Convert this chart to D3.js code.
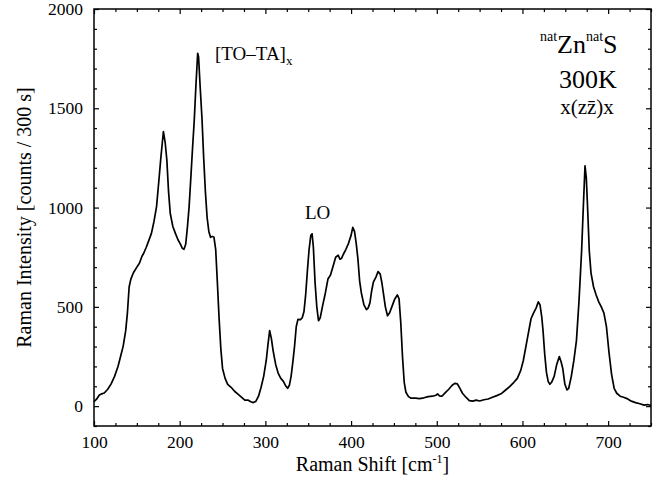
<!DOCTYPE html>
<html>
<head>
<meta charset="utf-8">
<script src="https://cdn.jsdelivr.net/npm/d3@7"></script>
<style>
  body { margin: 0; background: #fff; }
  text { font-family: "Liberation Serif", "DejaVu Serif", serif; fill: #000; }
</style>
</head>
<body>
<div id="chart"></div>
<script>
// Raman shift (cm^-1) and intensity (counts / 300 s)
const shift = [100,103,106,109,112,116,120,124,128,131,134,137,139,141,143,146,150,153,156,158,161,164,167,170,173,176,178,181,183,185,187,189,192,195,198,201,203,205,207,209,211,213,215,217,219,221,222,224,226,228,230,232,234,236,238,240,242,244,246,248,250,253,256,260,264,268,272,276,280,283,286,289,292,295,298,301,303,305,307,309,312,315,318,321,324,326,328,330,332,334,336,338,341,343,345,347,349,351,353,354.5,356,358,360,362,364,367,370,373,376,379,382,385,387,389,391,394,397,400,402,404,406,408,410,412,415,418,420,422,424,426,429,431.5,434,436,438,440,442.5,445,448,451,454,456,458,460,462,464,467,470,475,480,485,490,495,499,501,503,506,510,514,518,521,524,527,530,534,538,542,546,550,555,560,565,570,575,580,585,590,594,598,601,604,607,610,613,616,618.5,620.5,622.5,624,626,628,630,632,634,637,640,643,645,647,649.5,652,654,657,660,663,666,669,671,673,674.5,676,678,680,683,686,689,692,695,698,701,704,707,710,714,718,722,727,732,737,742,746,750];
const intensity = [22,35,55,62,66,85,112,150,200,250,301,380,470,600,640,672,700,720,755,770,800,835,870,930,1005,1150,1250,1383,1330,1240,1080,970,905,870,838,815,795,790,815,900,1005,1150,1300,1440,1620,1777,1760,1600,1450,1250,1080,950,880,850,855,850,790,620,440,290,190,140,110,95,75,60,45,30,30,22,18,25,50,95,150,230,310,380,340,280,210,165,140,125,100,90,105,150,220,300,400,437,436,445,475,560,680,790,860,868,800,620,500,430,445,510,570,640,660,705,750,760,740,745,765,790,820,860,900,880,820,740,630,570,510,486,495,520,580,625,650,678,665,620,560,500,455,470,505,540,560,540,420,250,120,70,48,40,40,38,42,48,50,55,62,52,50,68,85,105,115,112,90,65,45,28,25,30,26,32,36,45,53,62,80,98,120,140,180,230,300,370,440,470,495,525,510,450,380,260,170,125,110,120,150,210,250,225,190,110,82,90,150,230,330,530,780,1000,1210,1150,1000,780,670,600,560,525,500,470,400,270,160,90,65,50,45,38,25,18,12,5,8,3];

const xMajor = [100,200,300,400,500,600,700];
const yMajor = [0,500,1000,1500,2000];

var margin = {top: 9, right: 11, bottom: 55, left: 94},
    width = 662 - margin.left - margin.right,
    height = 481 - margin.top - margin.bottom;

const svg = d3.select("#chart")
  .append("svg")
    .attr("width", 662)
    .attr("height", 481)
  .append("g")
    .attr("transform", `translate(${margin.left}, ${margin.top})`);

var x = d3.scaleLinear().domain([100, 750]).range([0, width]);
var y = d3.scaleLinear().domain([-100, 2000]).range([height, 0]);

// minor + major ticks, all pointing inward
const xMinor = d3.range(100, 751, 25).filter(v => v % 100 != 0);
const yMinor = d3.range(-100, 2001, 100).filter(v => v % 500 != 0);

function tickAxis(axisFn, scale, vals, size, labels) {
  var a = axisFn(scale).tickValues(vals).tickSize(size).tickPadding(8);
  if (!labels) a.tickFormat("");
  else a.tickFormat(d3.format("d"));
  return a;
}

// bottom
svg.append("g").attr("transform", `translate(0,${height})`)
  .call(tickAxis(d3.axisBottom, x, xMinor, -3, false));
svg.append("g").attr("class", "xlab").attr("transform", `translate(0,${height})`)
  .call(tickAxis(d3.axisBottom, x, xMajor, -5, true).tickPadding(10));
// top
svg.append("g").call(tickAxis(d3.axisTop, x, xMinor, -3, false));
svg.append("g").call(tickAxis(d3.axisTop, x, xMajor, -5, false));
// left
svg.append("g").call(tickAxis(d3.axisLeft, y, yMinor, -3, false));
svg.append("g").attr("class", "ylab")
  .call(tickAxis(d3.axisLeft, y, yMajor, -5, true).tickPadding(11));
// right
svg.append("g").attr("transform", `translate(${width},0)`)
  .call(tickAxis(d3.axisRight, y, yMinor, -3, false));
svg.append("g").attr("transform", `translate(${width},0)`)
  .call(tickAxis(d3.axisRight, y, yMajor, -5, false));

svg.selectAll(".domain").remove();
svg.selectAll(".tick line").attr("stroke", "#000").attr("stroke-width", 1.2);
svg.selectAll(".xlab, .ylab")
  .attr("font-family", "'Liberation Serif', serif")
  .attr("font-size", 17.5);

// frame
svg.append("rect")
  .attr("width", width).attr("height", height)
  .attr("fill", "none").attr("stroke", "#000").attr("stroke-width", 1.5);

// spectrum
const pts = shift.map((s, i) => [s, intensity[i]]);
svg.append("path")
  .datum(pts)
  .attr("fill", "none")
  .attr("stroke", "#000")
  .attr("stroke-width", 1.7)
  .attr("stroke-linejoin", "round")
  .attr("d", d3.line().x(d => x(d[0])).y(d => y(d[1])));

// axis labels
var xl = svg.append("text")
  .attr("x", width / 2).attr("y", height + 45)
  .attr("text-anchor", "middle")
  .style("font-size", "20px");
xl.append("tspan").text("Raman Shift [cm");
xl.append("tspan").attr("dy", -8).style("font-size", "12px").text("-1");
xl.append("tspan").attr("dy", 8).text("]");

svg.append("text")
  .attr("transform", `translate(${-63},${height / 2}) rotate(-90)`)
  .attr("text-anchor", "middle")
  .style("font-size", "20px")
  .text("Raman Intensity [counts / 300 s]");

// peak annotations
var tt = svg.append("text")
  .attr("x", 121).attr("y", 51)
  .style("font-size", "19px");
tt.append("tspan").text("[TO\u2013TA]");
tt.append("tspan").attr("dy", 5).style("font-size", "13px").text("x");

svg.append("text")
  .attr("x", 211).attr("y", 210)
  .style("font-size", "19px")
  .text("LO");

// sample info
var zn = svg.append("text")
  .attr("x", 446).attr("y", 44)
  .style("font-size", "26px");
zn.append("tspan").attr("dy", -12).style("font-size", "14px").text("nat");
zn.append("tspan").attr("dy", 12).text("Zn");
zn.append("tspan").attr("dy", -12).style("font-size", "14px").text("nat");
zn.append("tspan").attr("dy", 12).text("S");

svg.append("text")
  .attr("x", 494).attr("y", 79)
  .attr("text-anchor", "middle")
  .style("font-size", "26px")
  .text("300K");

svg.append("text")
  .attr("x", 493).attr("y", 105)
  .attr("text-anchor", "middle")
  .style("font-size", "21px")
  .text("x(zz\u0304)x");
</script>
</body>
</html>
